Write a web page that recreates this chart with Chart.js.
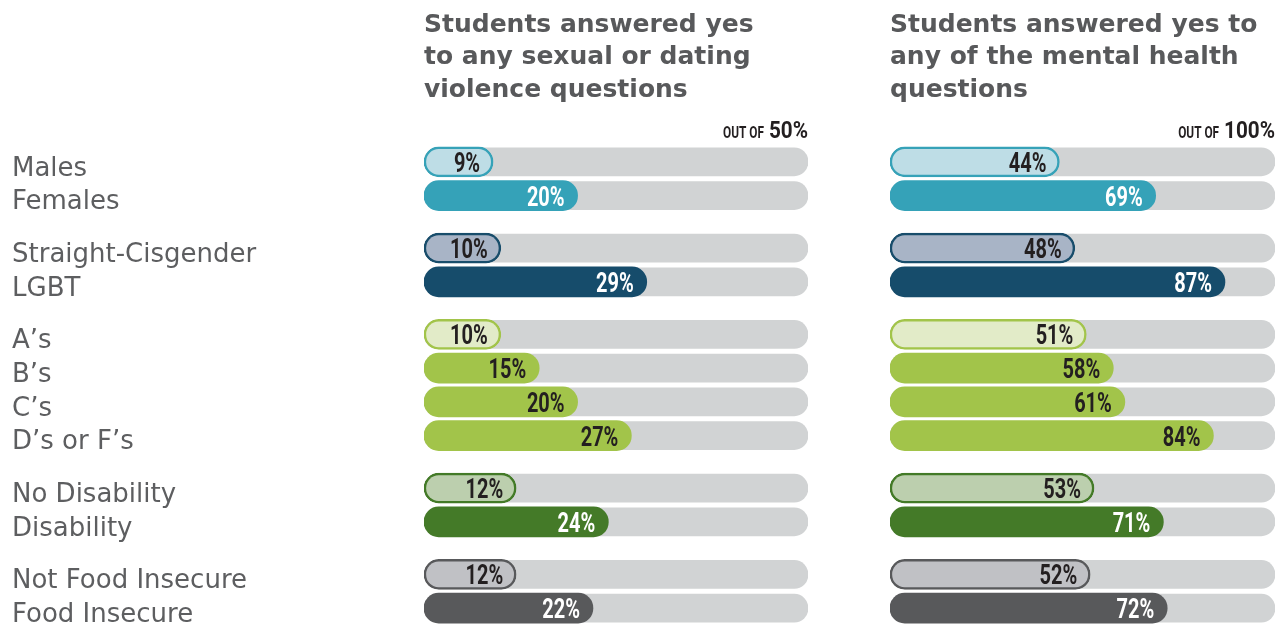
<!DOCTYPE html>
<html>
<head>
<meta charset="utf-8">
<script src="https://cdn.jsdelivr.net/npm/chart.js@4.4.1/dist/chart.umd.min.js"></script>
<style>
    html, body { margin: 0; padding: 0; background: #fff; }
    body { width: 1285px; height: 626px; position: relative; overflow: hidden; }
    .panel { position: absolute; top: 0; height: 626px; }
    #left { left: 0; width: 830px; }
    #right { left: 850px; width: 435px; }
</style>
</head>
<body>
<div class="panel" id="left"><canvas id="violenceChart"></canvas></div>
<div class="panel" id="right"><canvas id="mentalChart"></canvas></div>
<script>
const categories = ['Males', 'Females', 'Straight-Cisgender', 'LGBT', 'A’s', 'B’s', 'C’s', 'D’s or F’s',
    'No Disability', 'Disability', 'Not Food Insecure', 'Food Insecure'];
const groupSizes = [2, 2, 4, 2, 2];
const violenceValues = [9, 20, 10, 29, 10, 15, 20, 27, 12, 24, 12, 22];
const mentalValues = [44, 69, 48, 87, 51, 58, 61, 84, 53, 71, 52, 72];
const violenceMax = 50;
const mentalMax = 100;
const violenceTitle = ['Students answered yes', 'to any sexual or dating', 'violence questions'];
const mentalTitle = ['Students answered yes to', 'any of the mental health', 'questions'];

// bar colours per row: light outlined bar for the first row of a group
const fills = ['#bedde6', '#35a2b8', '#a8b4c6', '#164c6b', '#e2ebc8', '#a2c44a', '#a2c44a', '#a2c44a',
    '#bccfae', '#447a28', '#c0c1c5', '#58595b'];
const borders = ['#36a2b8', '#35a2b8', '#184d6b', '#164c6b', '#a2c44a', '#a2c44a', '#a2c44a', '#a2c44a',
    '#437a27', '#447a28', '#58595b', '#58595b'];
const borderWidths = [2.5, 0, 2.5, 0, 2.5, 0, 0, 0, 2.5, 0, 2.5, 0];
const labelColors = ['#231f20', '#ffffff', '#231f20', '#ffffff', '#231f20', '#231f20', '#231f20', '#231f20',
    '#231f20', '#ffffff', '#231f20', '#ffffff'];

const NARROW = 'Roboto, "Liberation Sans", sans-serif';

// rows sit one unit apart, with an extra gap between groups
const GROUP_GAP = 0.56;
const rowPos = [];
groupSizes.forEach((n, g) => {
    for (let k = 0; k < n; k++) rowPos.push(rowPos.length + g * GROUP_GAP);
});

// condensed look: draw the text horizontally squeezed
function squeezedText(ctx, text, x, y, sx) {
    ctx.save();
    ctx.translate(x, y);
    ctx.scale(sx, 1);
    ctx.fillText(text, 0, 0);
    ctx.restore();
}

const valueLabels = {
    id: 'valueLabels',
    afterDatasetsDraw(chart) {
        const ctx = chart.ctx;
        const bars = chart.getDatasetMeta(0).data;
        const points = chart.data.datasets[0].data;
        ctx.save();
        ctx.font = 'bold 27px ' + NARROW;
        ctx.textAlign = 'right';
        ctx.textBaseline = 'alphabetic';
        bars.forEach((bar, i) => {
            ctx.fillStyle = labelColors[i];
            squeezedText(ctx, points[i].x + '%', bar.x - 13, bar.y + 10, 0.74);
        });
        ctx.restore();
    }
};

const outOfLabel = {
    id: 'outOfLabel',
    afterDraw(chart) {
        const { ctx, chartArea } = chart;
        const big = chart.scales.x.max + '%';
        ctx.save();
        ctx.fillStyle = '#231f20';
        ctx.textAlign = 'right';
        ctx.textBaseline = 'alphabetic';
        ctx.font = 'bold 23px ' + NARROW;
        const w = ctx.measureText(big).width * 0.9;
        squeezedText(ctx, big, chartArea.right, 138, 0.9);
        ctx.font = 'bold 16px ' + NARROW;
        squeezedText(ctx, 'OUT OF', chartArea.right - w - 5, 138, 0.74);
        ctx.restore();
    }
};

function makeChart(id, values, max, title, showLabels, padding) {
    return new Chart(document.getElementById(id), {
        type: 'bar',
        data: {
            datasets: [
                {
                    data: rowPos.map((y, i) => ({ x: values[i], y })),
                    backgroundColor: fills,
                    borderColor: borders,
                    borderWidth: borderWidths,
                    borderRadius: 15,
                    borderSkipped: false,
                    barThickness: 30,
                    grouped: false
                },
                {
                    // grey track behind each bar
                    data: rowPos.map(y => ({ x: max, y })),
                    backgroundColor: '#d1d3d4',
                    borderWidth: 0,
                    borderRadius: 15,
                    borderSkipped: false,
                    barThickness: 28,
                    grouped: false
                }
            ]
        },
        options: {
            indexAxis: 'y',
            responsive: true,
            maintainAspectRatio: false,
            animation: false,
            layout: { padding },
            scales: {
                x: { type: 'linear', min: 0, max, display: false },
                y: {
                    type: 'linear',
                    reverse: true,
                    offset: false,
                    min: -0.5,
                    max: rowPos[rowPos.length - 1] + 0.5,
                    display: showLabels,
                    grid: { display: false },
                    border: { display: false },
                    afterBuildTicks: s => { s.ticks = rowPos.map(v => ({ value: v })); },
                    afterFit: s => {
                        if (showLabels) s.width = 412;
                        s.paddingTop = 0;
                        s.paddingBottom = 0;
                    },
                    ticks: {
                        autoSkip: false,
                        crossAlign: 'far',
                        labelOffset: 7,
                        color: '#5d5e60',
                        font: { family: '"DejaVu Sans"', size: 26, weight: 'normal' },
                        callback: (v, i) => categories[i]
                    }
                }
            },
            plugins: {
                legend: { display: false },
                tooltip: { enabled: false },
                title: {
                    display: true,
                    text: title,
                    align: 'start',
                    fullSize: false,
                    color: '#58595b',
                    font: { family: '"DejaVu Sans"', size: 25, weight: 'bold', lineHeight: '32.5px' },
                    padding: { top: 9, bottom: 38.5 }
                }
            }
        },
        plugins: [valueLabels, outOfLabel]
    });
}

makeChart('violenceChart', violenceValues, violenceMax, violenceTitle, true,
    { left: 12, right: 22, top: 0, bottom: 1 });
makeChart('mentalChart', mentalValues, mentalMax, mentalTitle, false,
    { left: 40, right: 10, top: 0, bottom: 1 });
</script>
</body>
</html>
